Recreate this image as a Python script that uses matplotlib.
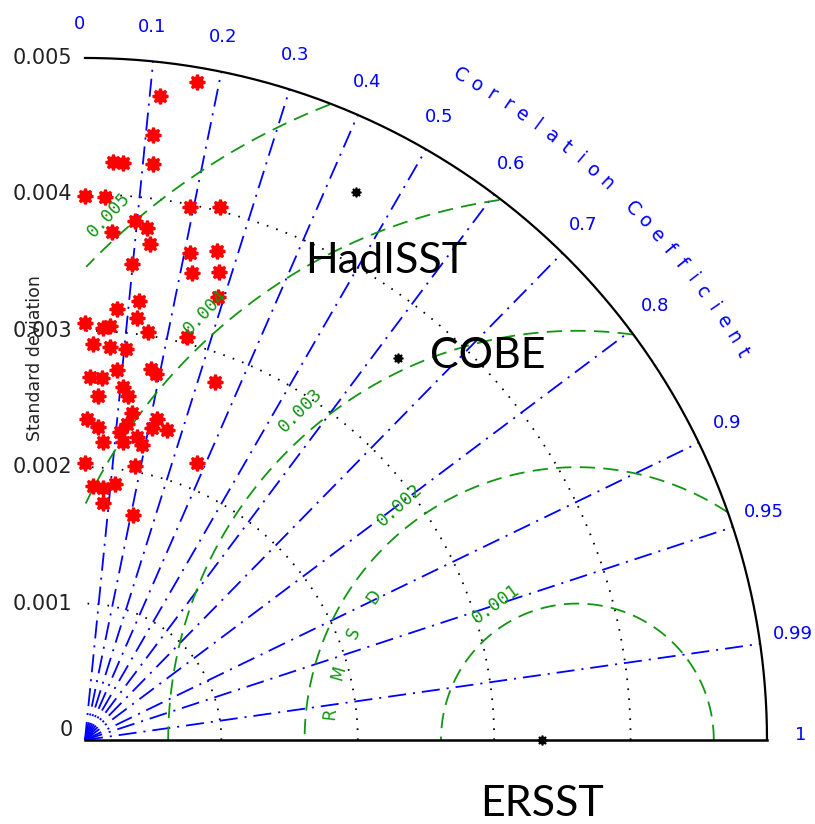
import numpy as np
import matplotlib
matplotlib.use('Agg')
import matplotlib.pyplot as plt

plt.rcParams['lines.scale_dashes'] = False

# red points (standard deviation, correlation)
red_std = [0.00489, 0.00475, 0.00446, 0.00424, 0.00424, 0.00425, 0.00399, 0.00398, 0.00398, 0.00403,
           0.00382, 0.00378, 0.00373, 0.00367, 0.00351, 0.00365, 0.00371, 0.00351, 0.00357, 0.00339,
           0.00324, 0.00317, 0.00312, 0.00306, 0.00302, 0.00304, 0.00303, 0.00305, 0.00290, 0.00289,
           0.00288, 0.00272, 0.00276, 0.00273, 0.00266, 0.00266, 0.00260, 0.00252, 0.00254, 0.00279,
           0.00235, 0.00230, 0.00242, 0.00234, 0.00227, 0.00241, 0.00234, 0.00235, 0.00220, 0.00225,
           0.00220, 0.00219, 0.00203, 0.00204, 0.00219, 0.00186, 0.00185, 0.00189, 0.00174, 0.00169]
red_cor = [0.168, 0.116, 0.112, 0.048, 0.066, 0.117, 0.0, 0.037, 0.194, 0.246,
           0.096, 0.120, 0.053, 0.130, 0.098, 0.211, 0.261, 0.224, 0.275, 0.288,
           0.122, 0.074, 0.122, 0.0, 0.044, 0.060, 0.153, 0.245, 0.020, 0.063,
           0.105, 0.086, 0.175, 0.191, 0.014, 0.047, 0.107, 0.038, 0.124, 0.342,
           0.006, 0.041, 0.142, 0.131, 0.113, 0.220, 0.210, 0.256, 0.126, 0.169,
           0.190, 0.060, 0.0, 0.180, 0.375, 0.032, 0.071, 0.116, 0.076, 0.209]

obs_names = ['HadISST', 'COBE', 'ERSST']
obs_std = [0.00448, 0.00362, 0.00335]
obs_cor = [0.444, 0.633, 1.0]

ref_std = 0.00361
std_max = 0.005
std_ticks = [0, 0.001, 0.002, 0.003, 0.004, 0.005]
std_labels = ['0', '0.001', '0.002', '0.003', '0.004', '0.005']
cor_ticks = [0, 0.1, 0.2, 0.3, 0.4, 0.5, 0.6, 0.7, 0.8, 0.9, 0.95, 0.99, 1]
cor_labels = ['0', '0.1', '0.2', '0.3', '0.4', '0.5', '0.6', '0.7', '0.8', '0.9', '0.95', '0.99', '1']
rms_levels = [0.001, 0.002, 0.003, 0.004, 0.005]
rms_labels = ['0.001', '0.002', '0.003', '0.004', '0.005']
rms_label_angle = [121, 127, 130, 131, 131.7]

blue = '#0000ff'
green = '#129612'
red = '#ff0000'

fig = plt.figure(figsize=(8.15, 8.24), dpi=100)
ax = fig.add_axes([0, 0, 1, 1])
ax.set_xlim(-0.000623, 0.005352)
ax.set_ylim(-0.000616, 0.005425)
ax.axis('off')

th = np.linspace(0, np.pi / 2, 400)

# std circles
for s in std_ticks[1:-1]:
    ax.plot(s * np.cos(th), s * np.sin(th), color='k', lw=1.3, ls=(0, (1.2, 6)))

# correlation lines
for c in cor_ticks[1:-1]:
    a = np.arccos(c)
    ax.plot([0, std_max * np.cos(a)], [0, std_max * np.sin(a)], color=blue, lw=1.3,
            ls=(0, (13, 5, 1.5, 5)))

# rms contours around the reference
phi = np.linspace(0, np.pi, 800)
for r in rms_levels:
    x = ref_std + r * np.cos(phi)
    y = r * np.sin(phi)
    out = (np.hypot(x, y) > std_max) | (x < 0)
    x[out] = np.nan
    y[out] = np.nan
    ax.plot(x, y, color=green, lw=1.3, ls=(0, (11, 6)))

for r, lab, ang in zip(rms_levels, rms_labels, rms_label_angle):
    a = np.radians(ang)
    rr = r + 0.00016
    ax.text(ref_std + rr * np.cos(a), rr * np.sin(a), lab, color=green, fontsize=13,
            family='DejaVu Sans Mono', rotation=ang - 85, ha='center', va='center')

for i, ch in enumerate('RMSD'):
    a = np.radians(174 - 9.7 * i)
    ax.text(ref_std + 0.00182 * np.cos(a), 0.00182 * np.sin(a), ch, color=green, fontsize=12,
            rotation=174 - 9.7 * i - 90, ha='center', va='center')

# frame
ax.plot(std_max * np.cos(th), std_max * np.sin(th), color='k', lw=1.6)
ax.plot([0, std_max], [0, 0], color='k', lw=1.8)

# std tick labels
for s, lab in zip(std_ticks, std_labels):
    yy = s if s > 0 else 0.00007
    ax.text(-0.00009, yy, lab, color='#222222', fontsize=15, ha='right', va='center')
ax.text(-0.00037, 0.0028, 'Standard deviation', color='#222222', fontsize=12.5,
        rotation=90, ha='center', va='center')

# correlation tick labels
for c, lab in zip(cor_ticks, cor_labels):
    a = np.arccos(c) + np.radians(0.4)
    ax.text(1.05 * std_max * np.cos(a), 1.05 * std_max * np.sin(a), lab, color=blue,
            fontsize=13, ha='center', va='center')

title = 'Correlation Coefficient'
for i, ch in enumerate(title):
    ang = 60.5 - i * 30.0 / (len(title) - 1)
    a = np.radians(ang)
    ax.text(1.119 * std_max * np.cos(a), 1.119 * std_max * np.sin(a), ch, color=blue,
            fontsize=13.5, rotation=ang - 90, ha='center', va='center')

# points
red_std = np.array(red_std)
red_cor = np.array(red_cor)
ax.plot(red_std * red_cor, red_std * np.sqrt(1 - red_cor ** 2), ls='none',
        marker=(8, 1, 0), ms=11, color=red, mew=2, mec=red)

obs_std = np.array(obs_std)
obs_cor = np.array(obs_cor)
ax.plot(obs_std * obs_cor, obs_std * np.sqrt(1 - obs_cor ** 2), ls='none',
        marker=(8, 1, 0), ms=7, color='k', mew=1.2, mec='k', clip_on=False)

offsets = [(30, -69), (90, 2), (0, -64)]
for name, s, c, off in zip(obs_names, obs_std, obs_cor, offsets):
    ax.annotate(name, (s * c, s * np.sqrt(1 - c ** 2)), xytext=off,
                textcoords='offset pixels', fontsize=31, family='Lato',
                ha='center', va='center', color='black')

plt.savefig('out.png', dpi=100)
